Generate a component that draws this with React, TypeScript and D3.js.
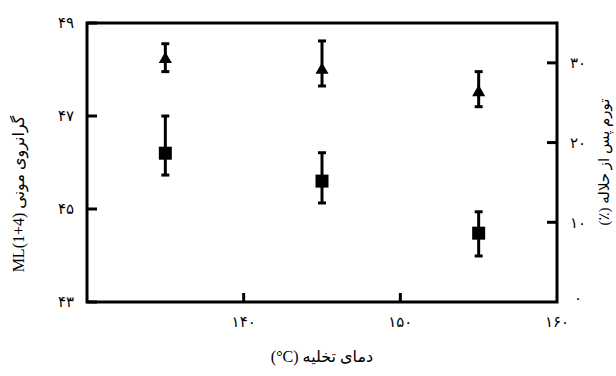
import React from 'react';
import * as d3 from 'd3';

// drain temperature (°C)
const temps = [135, 145, 155];
// Mooney viscosity ML(1+4): mean, lower and upper error bounds
const mooney = [46.2, 45.6, 44.48];
const mooneyLow = [45.73, 45.13, 43.99];
const mooneyHigh = [47.0, 46.21, 44.94];
// swelling after solvent (%): mean, lower and upper error bounds
const swell = [30.45, 29.1, 26.3];
const swellLow = [28.9, 27.1, 24.5];
const swellHigh = [32.4, 32.75, 28.9];

const xTicks = [140, 150, 160];
const leftTicks = [43, 45, 47, 49];
const rightTicks = [0, 10, 20, 30];

const faNum = (v: number) => String(v).replace(/[0-9]/g, (c) => '۰۱۲۳۴۵۶۷۸۹'[+c]);

const W = 616;
const H = 376;
const margin = { top: 23, right: 59, bottom: 74, left: 87 };

export default function App() {
  const x = d3.scaleLinear().domain([130, 160]).range([margin.left, W - margin.right]);
  const yL = d3.scaleLinear().domain([43, 49]).range([H - margin.bottom, margin.top]);
  const yR = d3.scaleLinear().domain([0, 35]).range([H - margin.bottom, margin.top]);

  const font = '"Liberation Serif", "DejaVu Sans", serif';
  const x0 = margin.left;
  const x1 = W - margin.right;
  const y0 = H - margin.bottom;
  const y1 = margin.top;
  const tri = d3.symbol().type(d3.symbolTriangle).size(75)();

  return (
    <svg
      width={W}
      height={H}
      style={{ position: 'absolute', left: 0, top: 0, background: '#fff' }}
      fontFamily={font}
    >
      <rect x={x0} y={y1} width={x1 - x0} height={y0 - y1} fill="none" stroke="#000" strokeWidth={3} />

      {leftTicks.map((t) => (
        <g key={'l' + t}>
          <line x1={x0} x2={x0 + 10} y1={yL(t)} y2={yL(t)} stroke="#000" strokeWidth={3} />
          <text x={66} y={yL(t)} dy="0.35em" textAnchor="middle" fontSize={15}>
            {faNum(t)}
          </text>
        </g>
      ))}

      {rightTicks.map((t) => (
        <g key={'r' + t}>
          {t > 0 && (
            <line x1={x1 - 10} x2={x1} y1={yR(t)} y2={yR(t)} stroke="#000" strokeWidth={3} />
          )}
          <text x={578} y={yR(t) - (t === 0 ? 4 : 0)} dy="0.35em" textAnchor="middle" fontSize={15}>
            {faNum(t)}
          </text>
        </g>
      ))}

      {xTicks.map((t) => (
        <g key={'x' + t}>
          {t < 160 && (
            <line x1={x(t)} x2={x(t)} y1={y0} y2={y0 - 9} stroke="#000" strokeWidth={3} />
          )}
          <text x={x(t)} y={327} textAnchor="middle" fontSize={15}>
            {faNum(t)}
          </text>
        </g>
      ))}

      {temps.map((t, i) => (
        <g key={'m' + t}>
          <line x1={x(t)} x2={x(t)} y1={yL(mooneyLow[i])} y2={yL(mooneyHigh[i])} stroke="#000" strokeWidth={3} />
          <line x1={x(t) - 4} x2={x(t) + 4} y1={yL(mooneyLow[i])} y2={yL(mooneyLow[i])} stroke="#000" strokeWidth={3} />
          <line x1={x(t) - 4} x2={x(t) + 4} y1={yL(mooneyHigh[i])} y2={yL(mooneyHigh[i])} stroke="#000" strokeWidth={3} />
          <rect x={x(t) - 6.5} y={yL(mooney[i]) - 6.5} width={13} height={13} fill="#000" />
        </g>
      ))}

      {temps.map((t, i) => (
        <g key={'s' + t}>
          <line x1={x(t)} x2={x(t)} y1={yR(swellLow[i])} y2={yR(swellHigh[i])} stroke="#000" strokeWidth={3} />
          <line x1={x(t) - 4} x2={x(t) + 4} y1={yR(swellLow[i])} y2={yR(swellLow[i])} stroke="#000" strokeWidth={3} />
          <line x1={x(t) - 4} x2={x(t) + 4} y1={yR(swellHigh[i])} y2={yR(swellHigh[i])} stroke="#000" strokeWidth={3} />
          <path d={tri || ''} transform={`translate(${x(t)},${yR(swell[i])})`} fill="#000" />
        </g>
      ))}

      <text
        transform="translate(24,194) rotate(-90)"
        textAnchor="middle"
        fontSize={16}
        direction="rtl"
      >
        {'گرانروی مونی \u2066ML(1+4)\u2069'}
      </text>
      <text
        transform="translate(609,162) rotate(-90)"
        textAnchor="middle"
        fontSize={15}
        direction="rtl"
      >
        تورم پس از حلاله (٪)
      </text>
      <text x={322} y={362} textAnchor="middle" fontSize={16} direction="rtl">
        {'دمای تخلیه \u2066(°C)\u2069'}
      </text>
    </svg>
  );
}
